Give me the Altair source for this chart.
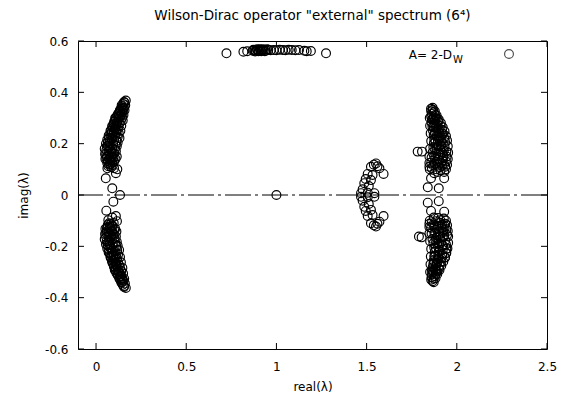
import altair as alt
import pandas as pd

# ---------------- data ----------------
left_upper = [(0.165,0.368),(0.158,0.360),(0.150,0.355),(0.162,0.350),(0.145,0.345),(0.155,0.340),(0.138,0.336),(0.150,0.330),(0.132,0.326),(0.145,0.322),(0.125,0.318),(0.140,0.314),(0.118,0.310),(0.133,0.306),(0.145,0.302),(0.110,0.300),(0.125,0.296),(0.138,0.290),(0.105,0.288),(0.118,0.284),(0.130,0.280),(0.098,0.276),(0.112,0.272),(0.125,0.268),(0.090,0.265),(0.105,0.260),(0.120,0.256),(0.085,0.252),(0.098,0.248),(0.113,0.244),(0.126,0.240),(0.078,0.238),(0.092,0.234),(0.107,0.230),(0.120,0.226),(0.072,0.222),(0.087,0.218),(0.100,0.214),(0.113,0.210),(0.066,0.206),(0.080,0.202),(0.095,0.198),(0.108,0.194),(0.060,0.190),(0.075,0.186),(0.090,0.182),(0.104,0.178),(0.057,0.174),(0.070,0.170),(0.085,0.166),(0.100,0.162),(0.056,0.158),(0.068,0.154),(0.083,0.150),(0.097,0.146),(0.058,0.142),(0.072,0.138),(0.088,0.134),(0.100,0.130),(0.062,0.125),(0.078,0.121),(0.093,0.117),(0.068,0.112),(0.085,0.108),(0.100,0.104),(0.118,0.100),(0.063,0.104),(0.080,0.120),
              (0.048,0.180),(0.050,0.160),(0.052,0.140),(0.055,0.200),(0.062,0.215),(0.070,0.232),(0.080,0.250),(0.090,0.270),(0.100,0.285),(0.112,0.300),(0.122,0.315),(0.132,0.330),(0.142,0.350),(0.155,0.362),(0.115,0.150),(0.110,0.170),(0.115,0.190),(0.120,0.205),(0.130,0.222),(0.135,0.250),(0.140,0.270),(0.148,0.290),(0.152,0.312),(0.158,0.330),(0.108,0.140),(0.094,0.160),(0.080,0.178),(0.066,0.192),(0.075,0.210),(0.092,0.225),(0.100,0.240),(0.087,0.242),(0.110,0.255),(0.097,0.262),(0.115,0.280),(0.106,0.300),(0.125,0.305),(0.135,0.322),(0.148,0.338),(0.060,0.150),(0.075,0.160),(0.090,0.150),(0.078,0.140),(0.065,0.132),(0.092,0.125),(0.072,0.118)]
left_lower = [(0.165,-0.362),(0.155,-0.355),(0.148,-0.350),(0.160,-0.345),(0.140,-0.340),(0.152,-0.335),(0.135,-0.330),(0.146,-0.325),(0.128,-0.320),(0.140,-0.316),(0.120,-0.312),(0.134,-0.308),(0.113,-0.304),(0.127,-0.300),(0.140,-0.296),(0.107,-0.292),(0.120,-0.288),(0.133,-0.284),(0.100,-0.280),(0.114,-0.276),(0.127,-0.272),(0.094,-0.268),(0.108,-0.264),(0.121,-0.260),(0.088,-0.256),(0.102,-0.252),(0.116,-0.248),(0.082,-0.244),(0.096,-0.240),(0.110,-0.236),(0.122,-0.232),(0.076,-0.228),(0.090,-0.224),(0.104,-0.220),(0.117,-0.216),(0.070,-0.212),(0.084,-0.208),(0.098,-0.204),(0.111,-0.200),(0.064,-0.196),(0.078,-0.192),(0.093,-0.188),(0.106,-0.184),(0.059,-0.180),(0.073,-0.176),(0.088,-0.172),(0.102,-0.168),(0.056,-0.164),(0.069,-0.160),(0.084,-0.156),(0.099,-0.152),(0.056,-0.148),(0.070,-0.144),(0.086,-0.140),(0.100,-0.136),(0.060,-0.131),(0.075,-0.127),(0.090,-0.123),(0.065,-0.117),(0.082,-0.113),(0.098,-0.109),(0.116,-0.102),(0.068,-0.098),(0.090,-0.088),(0.110,-0.082),
              (0.048,-0.172),(0.050,-0.152),(0.052,-0.132),(0.055,-0.192),(0.062,-0.208),(0.070,-0.224),(0.080,-0.242),(0.090,-0.262),(0.100,-0.278),(0.110,-0.294),(0.120,-0.310),(0.130,-0.326),(0.142,-0.342),(0.155,-0.358),(0.113,-0.142),(0.110,-0.162),(0.115,-0.182),(0.120,-0.198),(0.128,-0.214),(0.133,-0.242),(0.138,-0.262),(0.146,-0.284),(0.150,-0.306),(0.156,-0.326),(0.106,-0.132),(0.093,-0.152),(0.079,-0.170),(0.066,-0.186),(0.075,-0.203),(0.091,-0.218),(0.099,-0.233),(0.086,-0.236),(0.108,-0.248),(0.096,-0.256),(0.114,-0.272),(0.104,-0.292),(0.123,-0.298),(0.133,-0.316),(0.146,-0.332),(0.060,-0.142),(0.075,-0.152),(0.090,-0.142),(0.078,-0.133),(0.064,-0.125),(0.090,-0.118),(0.072,-0.110)]
left_sparse = [(0.054,0.065),(0.110,0.085),(0.090,0.026),(0.133,0.000),(0.096,-0.026),(0.057,-0.061)]

right_upper = [(1.857,0.336),(1.868,0.332),(1.858,0.326),(1.872,0.322),(1.862,0.316),(1.880,0.312),(1.858,0.306),(1.872,0.302),(1.890,0.298),(1.862,0.294),(1.878,0.290),(1.898,0.286),(1.860,0.282),(1.875,0.278),(1.892,0.274),(1.910,0.270),(1.865,0.266),(1.882,0.262),(1.900,0.258),(1.918,0.254),(1.868,0.250),(1.886,0.246),(1.905,0.242),(1.924,0.238),(1.872,0.234),(1.890,0.230),(1.910,0.226),(1.930,0.222),(1.875,0.218),(1.895,0.214),(1.915,0.210),(1.935,0.206),(1.873,0.202),(1.892,0.198),(1.912,0.194),(1.932,0.190),(1.870,0.186),(1.888,0.182),(1.908,0.178),(1.928,0.174),(1.942,0.170),(1.866,0.166),(1.885,0.162),(1.905,0.158),(1.925,0.154),(1.944,0.150),(1.860,0.146),(1.880,0.142),(1.900,0.138),(1.920,0.134),(1.940,0.130),(1.858,0.126),(1.878,0.122),(1.898,0.118),(1.918,0.114),(1.936,0.110),(1.862,0.104),(1.885,0.100),(1.910,0.096),(1.930,0.090),(1.848,0.110),(1.875,0.085),
               (1.850,0.300),(1.852,0.270),(1.855,0.240),(1.858,0.210),(1.852,0.180),(1.848,0.150),(1.848,0.125),(1.850,0.100),(1.866,0.340),(1.878,0.326),(1.888,0.310),(1.900,0.294),(1.912,0.280),(1.922,0.264),(1.932,0.248),(1.940,0.230),(1.946,0.212),(1.950,0.190),(1.952,0.165),(1.950,0.140),(1.946,0.118),(1.940,0.100),(1.882,0.296),(1.886,0.270),(1.896,0.250),(1.902,0.222),(1.900,0.190),(1.898,0.160),(1.890,0.130),(1.868,0.296),(1.872,0.264),(1.878,0.240),(1.882,0.208),(1.880,0.178),(1.874,0.150),(1.870,0.115),(1.918,0.240),(1.922,0.200),(1.920,0.165),(1.912,0.125),(1.925,0.145),(1.930,0.120),(1.905,0.108),(1.895,0.090)]
right_lower = [(1.866,-0.336),(1.858,-0.330),(1.872,-0.326),(1.860,-0.320),(1.878,-0.316),(1.862,-0.310),(1.885,-0.306),(1.868,-0.302),(1.893,-0.298),(1.862,-0.294),(1.880,-0.290),(1.900,-0.286),(1.866,-0.282),(1.884,-0.278),(1.905,-0.274),(1.870,-0.268),(1.890,-0.264),(1.912,-0.260),(1.872,-0.255),(1.893,-0.251),(1.915,-0.247),(1.935,-0.243),(1.875,-0.239),(1.897,-0.235),(1.920,-0.231),(1.940,-0.227),(1.878,-0.222),(1.900,-0.218),(1.922,-0.214),(1.942,-0.210),(1.875,-0.205),(1.896,-0.201),(1.918,-0.197),(1.940,-0.193),(1.870,-0.188),(1.892,-0.184),(1.914,-0.180),(1.936,-0.176),(1.865,-0.171),(1.886,-0.167),(1.908,-0.163),(1.930,-0.159),(1.946,-0.155),(1.860,-0.150),(1.880,-0.146),(1.902,-0.142),(1.924,-0.138),(1.942,-0.134),(1.857,-0.128),(1.876,-0.124),(1.897,-0.120),(1.918,-0.116),(1.936,-0.112),(1.862,-0.106),(1.885,-0.102),(1.908,-0.098),(1.928,-0.092),(1.848,-0.112),(1.872,-0.088),
               (1.852,-0.300),(1.854,-0.270),(1.856,-0.240),(1.858,-0.210),(1.852,-0.180),(1.848,-0.150),(1.848,-0.125),(1.850,-0.100),(1.872,-0.340),(1.882,-0.324),(1.892,-0.308),(1.904,-0.292),(1.914,-0.276),(1.925,-0.260),(1.934,-0.244),(1.942,-0.226),(1.948,-0.208),(1.952,-0.186),(1.952,-0.162),(1.950,-0.140),(1.946,-0.118),(1.940,-0.100),(1.884,-0.296),(1.888,-0.268),(1.898,-0.246),(1.904,-0.220),(1.902,-0.190),(1.898,-0.160),(1.890,-0.130),(1.870,-0.296),(1.874,-0.262),(1.880,-0.238),(1.884,-0.206),(1.882,-0.176),(1.876,-0.150),(1.870,-0.115),(1.920,-0.238),(1.924,-0.198),(1.922,-0.164),(1.914,-0.124),(1.926,-0.144),(1.932,-0.120),(1.906,-0.108),(1.896,-0.090)]
right_sparse = [(1.783,0.169),(1.807,0.169),(1.930,0.065),(1.857,0.065),(1.839,0.030),(1.900,0.026),(1.839,-0.030),(1.900,-0.024),(1.930,-0.065),(1.857,-0.062),(1.790,-0.162),(1.805,-0.165)]

middle = [(1.552,0.123),(1.540,0.118),(1.524,0.110),(1.571,0.104),(1.560,0.112),(1.594,0.082),(1.506,0.082),(1.533,0.078),(1.524,0.058),(1.487,0.046),(1.478,0.022),(1.506,0.009),(1.543,0.007),(1.469,0.007),(1.512,0.035),(1.495,0.062),
          (1.552,-0.123),(1.540,-0.118),(1.524,-0.110),(1.571,-0.104),(1.560,-0.112),(1.594,-0.082),(1.506,-0.082),(1.533,-0.078),(1.524,-0.058),(1.487,-0.046),(1.478,-0.022),(1.506,-0.009),(1.543,-0.007),(1.469,-0.007),(1.512,-0.035),(1.495,-0.062)]

top_row = [(0.723,0.552),(0.817,0.558),(0.838,0.560),(0.868,0.562),(0.878,0.564),(0.887,0.562),(0.895,0.565),(0.903,0.563),(0.912,0.566),(0.920,0.564),(0.930,0.565),(0.942,0.563),(0.955,0.566),(0.968,0.564),(0.985,0.565),(1.000,0.564),(1.018,0.566),(1.035,0.565),(1.050,0.564),(1.068,0.566),(1.085,0.565),(1.105,0.564),(1.125,0.565),(1.155,0.562),(1.168,0.560),(1.191,0.561),(1.275,0.552),
           (0.872,0.566),(0.882,0.559),(0.892,0.568),(0.900,0.560),(0.908,0.568),(0.916,0.560),(0.926,0.568),(0.936,0.560),(0.948,0.568)]

unit_point = [(1.0, 0.0)]

x_ticks = [0, 0.5, 1, 1.5, 2, 2.5]
y_ticks = [-0.6, -0.4, -0.2, 0, 0.2, 0.4, 0.6]

title_text = 'Wilson-Dirac operator "external" spectrum (6\u2074)'
x_title = "real(\u03bb)"
y_title = "imag(\u03bb)"
legend_main = "A= 2-D"
legend_sub = "W"

# ---------------- chart ----------------
W, H = 469, 308
FONT = "DejaVu Sans"

pts = left_upper + left_lower + left_sparse + right_upper + right_lower + right_sparse + middle + top_row + unit_point
df = pd.DataFrame(pts, columns=["re", "im"])

xs = alt.Scale(domain=[-0.1, 2.5], nice=False, zero=False)
ys = alt.Scale(domain=[-0.6, 0.6], nice=False, zero=False)

points = alt.Chart(df).mark_point(
    shape="circle", filled=False, color="black", size=78, strokeWidth=1.15, opacity=1
).encode(
    x=alt.X("re:Q", scale=xs, title=x_title,
            axis=alt.Axis(values=x_ticks, labelExpr="'' + datum.value", labelPadding=12,
                          titlePadding=9, labelFlush=False, labelOverlap=False)),
    y=alt.Y("im:Q", scale=ys, title=y_title,
            axis=alt.Axis(values=y_ticks, labelExpr="'' + datum.value", labelPadding=10,
                          titlePadding=14, labelFlush=False, labelOverlap=False)),
)

zero = alt.Chart(pd.DataFrame({"im": [0]})).mark_rule(
    color="black", strokeWidth=1, strokeDash=[26, 4, 3, 4]
).encode(y=alt.Y("im:Q", scale=ys, title=y_title))

xt = pd.DataFrame({"re": x_ticks})
yt = pd.DataFrame({"im": y_ticks})
TL = 6
bt = alt.Chart(xt).mark_rule(color="black").encode(
    x=alt.X("re:Q", scale=xs, title=x_title), y=alt.value(H), y2=alt.value(H - TL))
tt = alt.Chart(xt).mark_rule(color="black").encode(
    x=alt.X("re:Q", scale=xs, title=x_title), y=alt.value(0), y2=alt.value(TL))
lt = alt.Chart(yt).mark_rule(color="black").encode(
    y=alt.Y("im:Q", scale=ys, title=y_title), x=alt.value(0), x2=alt.value(TL))
rt = alt.Chart(yt).mark_rule(color="black").encode(
    y=alt.Y("im:Q", scale=ys, title=y_title), x=alt.value(W), x2=alt.value(W - TL))

leg_df = pd.DataFrame({"a": [legend_main], "b": [legend_sub]})
leg_t1 = alt.Chart(leg_df).mark_text(align="right", baseline="middle", font=FONT, fontSize=12, color="black").encode(
    text="a:N", x=alt.value(374), y=alt.value(14))
leg_t2 = alt.Chart(leg_df).mark_text(align="left", baseline="middle", font=FONT, fontSize=10, color="black").encode(
    text="b:N", x=alt.value(375), y=alt.value(19))
leg_pt = alt.Chart(leg_df).mark_point(shape="circle", filled=False, color="black", size=78, strokeWidth=1.15).encode(
    x=alt.value(431), y=alt.value(13))

chart = alt.layer(points, zero, bt, tt, lt, rt, leg_t1, leg_t2, leg_pt).properties(
    width=W, height=H,
    title=alt.TitleParams(title_text, fontSize=13.5, fontWeight="normal", font=FONT, color="black", offset=13, anchor="middle"),
    autosize=alt.AutoSizeParams(type="none"),
    padding={"left": 78, "top": 41, "right": 14, "bottom": 46},
).configure_view(
    stroke="black", strokeWidth=1
).configure_axis(
    grid=False, ticks=False, domain=False,
    labelFont=FONT, titleFont=FONT, labelFontSize=12, titleFontSize=12,
    labelColor="black", titleColor="black", titleFontWeight="normal",
)

chart.save("out.html", embed_options={"renderer": "svg", "actions": False})
